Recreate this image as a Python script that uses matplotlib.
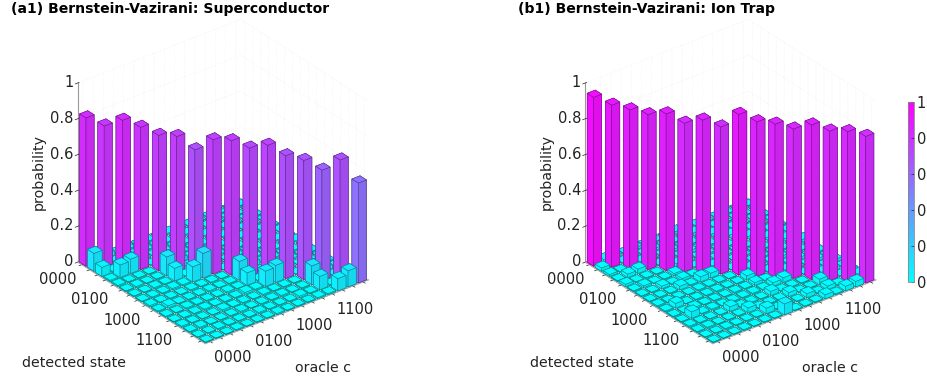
import numpy as np
import matplotlib
matplotlib.use("Agg")
import matplotlib.pyplot as plt
from matplotlib.colors import Normalize
from matplotlib.cm import ScalarMappable

plt.rcParams['grid.color'] = '#ececec'
plt.rcParams['grid.linewidth'] = 0.4
plt.rcParams['grid.linestyle'] = ':'

tick_states = ["0000", "", "", "", "0100", "", "", "", "1000", "", "", "", "1100", "", "", ""]
z_ticks = [0, 0.2, 0.4, 0.6, 0.8, 1]
z_labels = ["0", "0.2", "0.4", "0.6", "0.8", "1"]

# diagonal, the tall bars
sc_diag = [0.828, 0.789, 0.827, 0.794, 0.755, 0.755, 0.687, 0.749,
           0.750, 0.715, 0.737, 0.685, 0.665, 0.617, 0.680, 0.558]
ion_diag = [0.943, 0.905, 0.885, 0.864, 0.875, 0.829, 0.853, 0.821,
            0.897, 0.862, 0.855, 0.834, 0.863, 0.835, 0.838, 0.818]

# off diagonal, rows are detected state, columns are oracle
sc_off = [
    [0, .030, .025, .006, .005, .004, .004, .003, .006, .004, .003, .003, .004, .003, .003, .002],
    [.100, 0, .006, .022, .004, .005, .003, .004, .004, .006, .003, .003, .003, .004, .002, .003],
    [.050, .006, 0, .028, .004, .003, .005, .004, .004, .003, .005, .004, .003, .002, .004, .003],
    [.006, .070, .080, 0, .003, .004, .004, .006, .003, .004, .004, .005, .002, .003, .003, .004],
    [.006, .004, .004, .003, 0, .030, .025, .006, .005, .003, .003, .002, .006, .004, .003, .003],
    [.004, .006, .003, .004, .105, 0, .006, .024, .003, .005, .002, .003, .004, .006, .003, .004],
    [.004, .003, .006, .004, .070, .006, 0, .035, .003, .002, .005, .003, .003, .003, .005, .004],
    [.003, .004, .004, .007, .006, .085, .137, 0, .002, .003, .003, .005, .003, .004, .004, .006],
    [.007, .004, .004, .003, .006, .004, .004, .003, 0, .030, .025, .006, .005, .003, .003, .002],
    [.005, .012, .003, .004, .004, .006, .003, .004, .105, 0, .006, .022, .003, .006, .002, .003],
    [.004, .003, .006, .004, .004, .003, .007, .004, .070, .006, 0, .028, .003, .002, .005, .003],
    [.003, .004, .004, .006, .003, .004, .004, .010, .006, .085, .095, 0, .002, .003, .003, .005],
    [.006, .004, .003, .003, .008, .004, .004, .003, .006, .004, .004, .003, 0, .026, .022, .006],
    [.004, .006, .002, .003, .004, .006, .003, .004, .004, .006, .003, .004, .105, 0, .006, .020],
    [.003, .003, .005, .003, .004, .003, .006, .004, .004, .003, .008, .004, .075, .006, 0, .024],
    [.003, .003, .003, .005, .003, .004, .004, .006, .003, .004, .004, .006, .006, .068, .090, 0],
]
ion_off = [
    [0, .015, .012, .004, .012, .005, .004, .003, .014, .005, .004, .003, .004, .003, .003, .002],
    [.018, 0, .004, .014, .004, .012, .003, .004, .005, .013, .003, .004, .003, .004, .002, .003],
    [.010, .004, 0, .014, .003, .003, .012, .005, .004, .003, .013, .004, .003, .002, .004, .003],
    [.004, .018, .024, 0, .003, .004, .004, .014, .003, .004, .004, .014, .002, .003, .003, .004],
    [.012, .004, .004, .003, 0, .016, .012, .005, .005, .003, .003, .002, .012, .004, .003, .003],
    [.004, .010, .003, .004, .012, 0, .004, .016, .003, .005, .002, .003, .004, .012, .003, .004],
    [.004, .003, .014, .004, .012, .005, 0, .016, .003, .002, .005, .003, .003, .003, .012, .004],
    [.003, .004, .004, .020, .005, .028, .026, 0, .002, .003, .003, .005, .003, .004, .004, .014],
    [.006, .004, .004, .003, .005, .004, .004, .003, 0, .016, .014, .005, .012, .004, .003, .002],
    [.005, .025, .003, .004, .004, .005, .003, .004, .024, 0, .005, .016, .003, .012, .002, .003],
    [.004, .003, .008, .004, .004, .003, .005, .004, .014, .005, 0, .018, .003, .002, .012, .003],
    [.003, .035, .004, .006, .003, .004, .004, .005, .005, .020, .025, 0, .002, .003, .003, .014],
    [.006, .004, .003, .003, .025, .004, .004, .003, .022, .004, .004, .003, 0, .018, .016, .005],
    [.004, .006, .002, .003, .004, .025, .003, .004, .004, .022, .003, .004, .030, 0, .005, .018],
    [.003, .003, .005, .003, .004, .003, .030, .004, .004, .003, .022, .004, .020, .005, 0, .020],
    [.003, .003, .003, .005, .003, .004, .004, .060, .003, .004, .004, .022, .005, .025, .030, 0],
]


def face_colors(col):
    "bottom, top, -y, +y, -x, +x; the right hand side is a bit darker"
    base = np.array(col[:3])
    return [base, base, base, base * 0.93, base, base]


def draw_panel(rect, diag, off):
    "One 3d bar panel, bars drawn back to front"
    ax = fig.add_axes(rect, projection='3d', computed_zorder=False)
    ax.set_proj_type('ortho')
    ax.view_init(elev=30, azim=-128)
    ax.set_box_aspect((1, 1, 1))
    ax.set_xlim(-0.5, 15.5, view_margin=0)
    ax.set_ylim(15.5, -0.5, view_margin=0)
    ax.set_zlim(0, 1, view_margin=0)

    # gray lines in the gaps between the cells
    for k in range(17):
        ax.plot([k - 0.5, k - 0.5], [-0.5, 15.5], [0, 0], color='#b4b4b4', lw=0.5, zorder=-2)
        ax.plot([-0.5, 15.5], [k - 0.5, k - 0.5], [0, 0], color='#b4b4b4', lw=0.5, zorder=-2)

    heights = np.array(off, dtype=float)
    heights[np.arange(16), np.arange(16)] = diag
    order = 0
    for o in range(15, -1, -1):
        for d in range(16):
            h = heights[d, o]
            col = cmap(h)
            edge = tuple(0.5 * c for c in col[:3])
            ax.bar3d(o - 0.4, d - 0.4, 0, 0.8, 0.8, h, color=face_colors(col), edgecolor=edge,
                     linewidth=0.35, shade=False, zorder=order)
            order += 1

    ax.set_xticks(range(16))
    ax.set_xticklabels(tick_states, ha='left')
    ax.set_yticks(range(16))
    ax.set_yticklabels(tick_states, ha='right')
    ax.set_zticks(z_ticks)
    ax.set_zticklabels(z_labels, ha='right', va='center')
    ax.tick_params(labelsize=10.5, colors='#222222')
    ax.tick_params(axis='x', pad=-4)
    ax.tick_params(axis='y', pad=-4)
    ax.tick_params(axis='z', pad=-6)
    for axis in (ax.xaxis, ax.yaxis, ax.zaxis):
        axis.set_pane_color((1, 1, 1, 0))
        axis.pane.set_edgecolor('none')
        axis.line.set_color('#999999')
        axis.line.set_linewidth(0.8)
        axis._axinfo['tick']['color'] = '#aaaaaa'
        axis._axinfo['tick']['linewidth'] = {True: 0.5, False: 0.5}
    return ax


fig = plt.figure(figsize=(9.27, 3.81), dpi=100)
cmap = plt.get_cmap('cool')

draw_panel([0.0478, 0.055, 0.3754, 0.913], sc_diag, sc_off)
draw_panel([0.5953, 0.055, 0.3754, 0.913], ion_diag, ion_off)

fig.text(11 / 927, 1 - 9 / 381, "(a1) Bernstein-Vazirani: Superconductor", fontsize=10.1, fontweight='bold', va='center')
fig.text(518 / 927, 1 - 9 / 381, "(b1) Bernstein-Vazirani: Ion Trap", fontsize=10.1, fontweight='bold', va='center')
for dx in (0, 507.5):
    fig.text((39 + dx) / 927, 1 - 172 / 381, "probability", fontsize=10.2, color='#222222',
             rotation=90, ha='center', va='center')
    fig.text((74.5 + dx) / 927, 1 - 363 / 381, "detected state", fontsize=10.2, color='#222222',
             ha='center', va='center')
    fig.text((323 + dx) / 927, 1 - 368 / 381, "oracle c", fontsize=10.2, color='#222222',
             ha='center', va='center')

cax = fig.add_axes([908 / 927, 1 - 282 / 381, 6 / 927, 180 / 381])
cbar = fig.colorbar(ScalarMappable(Normalize(0, 1), cmap=cmap), cax=cax)
cbar.set_ticks(z_ticks)
cbar.set_ticklabels(z_labels)
cbar.ax.tick_params(labelsize=10.5, direction='in', length=2, width=0.5, pad=2, colors='#222222')
cbar.outline.set_edgecolor('#888888')
cbar.outline.set_linewidth(0.6)

fig.savefig('out.png', dpi=100)
